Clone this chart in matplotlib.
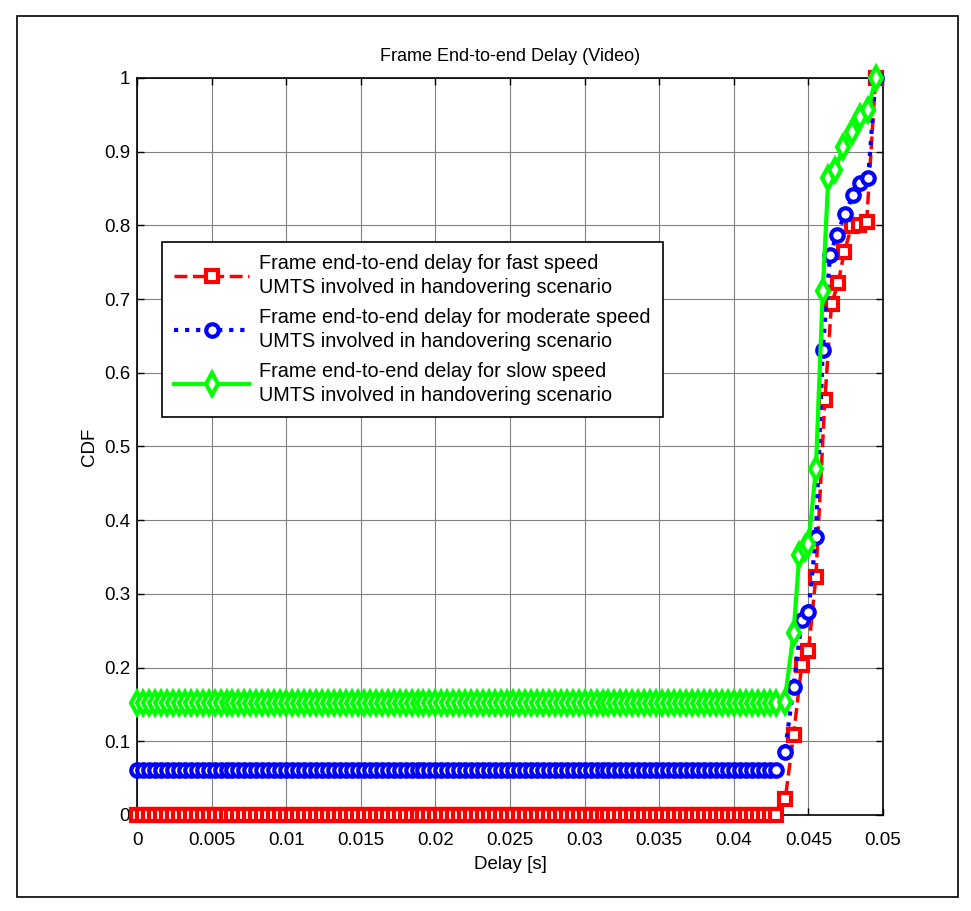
import numpy as np
import matplotlib.pyplot as plt
from matplotlib.patches import Rectangle

plt.rcParams['font.family'] = ['Liberation Sans', 'DejaVu Sans']

# --- data ---
# flat part of every CDF: one sample every 0.4 ms up to ~43 ms
flat_step = 0.0004
flat_end = 0.0430
fast_level = 0.0
moderate_level = 0.061
slow_level = 0.152

fast_rise_x = [0.04345, 0.0440, 0.04455, 0.0450, 0.0455, 0.0461, 0.04655,
               0.0470, 0.0474, 0.0479, 0.0484, 0.0489, 0.0495]
fast_rise_y = [0.022, 0.108, 0.203, 0.222, 0.323, 0.563, 0.694,
               0.722, 0.764, 0.799, 0.800, 0.804, 1.0]

moderate_rise_x = [0.04343, 0.0440, 0.04455, 0.0450, 0.0455, 0.04596, 0.04645,
                   0.0469, 0.04745, 0.0480, 0.04846, 0.0490, 0.0495]
moderate_rise_y = [0.086, 0.174, 0.265, 0.276, 0.377, 0.631, 0.760,
                   0.787, 0.816, 0.841, 0.857, 0.864, 1.0]

slow_rise_x = [0.0434, 0.0440, 0.04439, 0.04477, 0.0450, 0.0455, 0.04596, 0.04633,
               0.04678, 0.04734, 0.0479, 0.04846, 0.0490, 0.0495]
slow_rise_y = [0.153, 0.247, 0.353, 0.362, 0.368, 0.469, 0.711, 0.864,
               0.875, 0.907, 0.927, 0.947, 0.956, 1.0]

labels = ['Frame end-to-end delay for fast speed\nUMTS involved in handovering scenario',
          'Frame end-to-end delay for moderate speed\nUMTS involved in handovering scenario',
          'Frame end-to-end delay for slow speed\nUMTS involved in handovering scenario']

xticks = [0, 0.005, 0.01, 0.015, 0.02, 0.025, 0.03, 0.035, 0.04, 0.045, 0.05]
xticklabels = ['0', '0.005', '0.01', '0.015', '0.02', '0.025', '0.03', '0.035', '0.04', '0.045', '0.05']
yticks = [0, 0.1, 0.2, 0.3, 0.4, 0.5, 0.6, 0.7, 0.8, 0.9, 1.0]
yticklabels = ['0', '0.1', '0.2', '0.3', '0.4', '0.5', '0.6', '0.7', '0.8', '0.9', '1']

flat_x = np.arange(0, flat_end, flat_step)

fig = plt.figure(figsize=(9.71, 9.11), dpi=100)
ax = fig.add_axes([0.1411, 0.1054, 0.7683, 0.809])

# outer frame of the exported MATLAB figure
fig.patches.append(Rectangle((0.017, 0.015), 0.970, 0.967, transform=fig.transFigure,
                             fill=False, edgecolor='black', linewidth=1.2))

x_fast = np.concatenate([flat_x, fast_rise_x])
y_fast = np.concatenate([np.full(len(flat_x), fast_level), fast_rise_y])
x_mod = np.concatenate([flat_x, moderate_rise_x])
y_mod = np.concatenate([np.full(len(flat_x), moderate_level), moderate_rise_y])
x_slow = np.concatenate([flat_x, slow_rise_x])
y_slow = np.concatenate([np.full(len(flat_x), slow_level), slow_rise_y])

ax.plot(x_fast, y_fast, color='red', linestyle='--', linewidth=2.5, marker='s',
        markersize=8.5, markerfacecolor='white', markeredgewidth=3, label=labels[0],
        clip_on=False, zorder=3)
ax.plot(x_mod, y_mod, color='blue', linestyle=':', linewidth=3, marker='o',
        markersize=9, markerfacecolor='white', markeredgewidth=3, label=labels[1],
        clip_on=False, zorder=4)
ax.plot(x_slow, y_slow, color='#00ff00', linestyle='-', linewidth=3, marker='d',
        markersize=11, markerfacecolor='white', markeredgewidth=3, label=labels[2],
        clip_on=False, zorder=5)

ax.set_xlim(0, 0.05)
ax.set_ylim(0, 1)
ax.set_xticks(xticks)
ax.set_xticklabels(xticklabels)
ax.set_yticks(yticks)
ax.set_yticklabels(yticklabels)
ax.tick_params(direction='in', top=True, right=True, labelsize=13.5, length=5, width=1)
ax.tick_params(axis='x', pad=12)
ax.tick_params(axis='y', pad=5)
ax.grid(True, color='#808080', linewidth=0.8)
ax.set_axisbelow(True)
for s in ax.spines.values():
    s.set_linewidth(1.2)

ax.set_title('Frame End-to-end Delay (Video)', fontsize=13, pad=12)
ax.set_xlabel('Delay [s]', fontsize=13.5, labelpad=5)
ax.set_ylabel('CDF', fontsize=13.5, labelpad=4)

leg = ax.legend(loc='upper left', bbox_to_anchor=(0.0335, 0.7775), borderaxespad=0,
                fontsize=14.3, fancybox=False, framealpha=1, edgecolor='black',
                handlelength=3.8, handletextpad=0.5, labelspacing=0.55,
                borderpad=0.6)
leg.get_frame().set_linewidth(1.2)
for t in leg.get_texts():
    t.set_linespacing(1.35)

fig.savefig('out.png', dpi=100)
